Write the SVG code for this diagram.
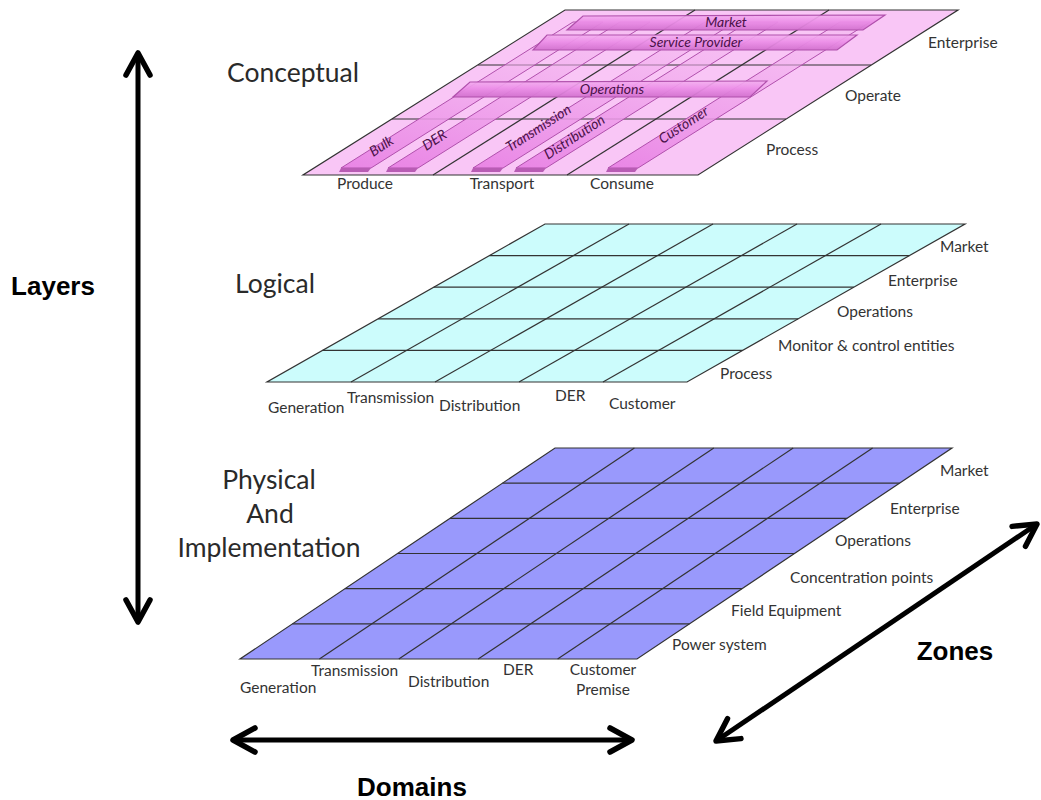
<svg xmlns="http://www.w3.org/2000/svg" width="1041" height="800" viewBox="0 0 1041 800">
<defs>
<style>
.lbl{font-family:Lato,"Liberation Sans",sans-serif;font-size:15.5px;fill:#333}
.ttl{font-family:Lato,"Liberation Sans",sans-serif;font-size:26.5px;fill:#2a2a2a}
.big{font-family:"Liberation Sans",Arial,sans-serif;font-size:26px;font-weight:bold;fill:#000}
.tube{fill:url(#tg);stroke:#b050ac;stroke-width:1.2}
.dtube{fill:url(#dg);stroke:#b050ac;stroke-width:1}
.tl{font-family:Lato,"Liberation Sans",sans-serif;font-size:14px;font-style:italic;fill:#4a1248}
.grid{stroke:#333;stroke-width:1.2;fill:none}
.axis{stroke:#000;stroke-width:5;fill:none}
</style>
<linearGradient id="tg" x1="0" y1="0" x2="0" y2="1">
<stop offset="0" stop-color="#f4b0f0" stop-opacity="0.9"/>
<stop offset="0.45" stop-color="#ec8fe8" stop-opacity="0.95"/>
<stop offset="1" stop-color="#d271ce" stop-opacity="0.95"/>
</linearGradient>
<linearGradient id="dg" x1="0" y1="1" x2="0.55" y2="0">
<stop offset="0" stop-color="#e985e5" stop-opacity="1"/>
<stop offset="0.45" stop-color="#ee9cea" stop-opacity="0.85"/>
<stop offset="1" stop-color="#f3b4ef" stop-opacity="0.45"/>
</linearGradient>
<marker id="head" markerUnits="userSpaceOnUse" markerWidth="40" markerHeight="40" viewBox="-30 -20 40 40" refX="0" refY="0" orient="auto-start-reverse">
<path d="M -22 -12 L 0 0 L -22 12" fill="none" stroke="#000" stroke-width="5.5" stroke-linecap="round" stroke-linejoin="round"/>
</marker>
</defs>
<rect width="1041" height="800" fill="#fff"/>

<g id="conceptual">
<polygon points="303,175 698,175 958,10 565,10" fill="#f9c6f6" stroke="#333" stroke-width="1.2"/>
<line class="grid" x1="478" y1="65" x2="871" y2="65"/>
<line class="grid" x1="392" y1="119" x2="786" y2="119"/>
<line class="grid" x1="433" y1="175" x2="695" y2="10"/>
<line class="grid" x1="567" y1="175" x2="829" y2="10"/>
<g id="tube-bulk">
<polygon class="dtube" points="341,168 371,168 603,22 573,22"/>
<polygon points="341,168 371,168 368,172 339,172" fill="#b85cb4"/>
<text class="tl" transform="translate(384,150) rotate(-33)" text-anchor="middle">Bulk</text>
</g>
<g id="tube-der">
<polygon class="dtube" points="388,168 418,168 650,22 620,22"/>
<polygon points="388,168 418,168 415,172 386,172" fill="#b85cb4"/>
<text class="tl" transform="translate(437,144) rotate(-33)" text-anchor="middle">DER</text>
</g>
<g id="tube-transmission">
<polygon class="dtube" points="473,168 503,168 735,22 705,22"/>
<polygon points="473,168 503,168 500,172 471,172" fill="#b85cb4"/>
<text class="tl" transform="translate(541,132) rotate(-33)" text-anchor="middle">Transmission</text>
</g>
<g id="tube-distribution">
<polygon class="dtube" points="516,168 546,168 778,22 748,22"/>
<polygon points="516,168 546,168 543,172 514,172" fill="#b85cb4"/>
<text class="tl" transform="translate(577,141) rotate(-33)" text-anchor="middle">Distribution</text>
</g>
<g id="tube-customer">
<polygon class="dtube" points="608,168 638,168 870,22 840,22"/>
<polygon points="608,168 638,168 635,172 606,172" fill="#b85cb4"/>
<text class="tl" transform="translate(686,129) rotate(-33)" text-anchor="middle">Customer</text>
</g>
<g id="tube-operations">
<polygon class="tube" points="470,82 767,81 750,97 453,97"/>
<text class="tl" x="612" y="94" text-anchor="middle">Operations</text>
</g>
<g id="tube-service-provider">
<polygon class="tube" points="547,35 857,35 837,50 533,50"/>
<text class="tl" x="696" y="47" text-anchor="middle">Service Provider</text>
</g>
<g id="tube-market">
<polygon class="tube" points="583,16 885,15 863,30 567,30"/>
<text class="tl" x="726" y="27" text-anchor="middle">Market</text>
</g>
<text class="lbl" x="365" y="189" text-anchor="middle">Produce</text>
<text class="lbl" x="502" y="189" text-anchor="middle">Transport</text>
<text class="lbl" x="622" y="189" text-anchor="middle">Consume</text>
<text class="lbl" x="928" y="48">Enterprise</text>
<text class="lbl" x="845" y="101">Operate</text>
<text class="lbl" x="766" y="155">Process</text>
<text class="ttl" x="293" y="82" text-anchor="middle">Conceptual</text>
</g>

<g id="logical">
<polygon points="267,382 687,382 965,224 545,224" fill="#ccfcfc" stroke="#333" stroke-width="1.2"/>
<line class="grid" x1="489.4" y1="255.6" x2="909.4" y2="255.6"/>
<line class="grid" x1="433.8" y1="287.2" x2="853.8" y2="287.2"/>
<line class="grid" x1="378.2" y1="318.8" x2="798.2" y2="318.8"/>
<line class="grid" x1="322.6" y1="350.4" x2="742.6" y2="350.4"/>
<line class="grid" x1="351" y1="382" x2="629" y2="224"/>
<line class="grid" x1="435" y1="382" x2="713" y2="224"/>
<line class="grid" x1="519" y1="382" x2="797" y2="224"/>
<line class="grid" x1="603" y1="382" x2="881" y2="224"/>
<text class="lbl" x="268" y="413">Generation</text>
<text class="lbl" x="347" y="403">Transmission</text>
<text class="lbl" x="439" y="411">Distribution</text>
<text class="lbl" x="555" y="401">DER</text>
<text class="lbl" x="609" y="409">Customer</text>
<text class="lbl" x="940" y="252">Market</text>
<text class="lbl" x="888" y="286">Enterprise</text>
<text class="lbl" x="837" y="317">Operations</text>
<text class="lbl" x="778" y="351">Monitor &amp; control entities</text>
<text class="lbl" x="720" y="379">Process</text>
<text class="ttl" x="275" y="293" text-anchor="middle">Logical</text>
</g>

<g id="physical">
<polygon points="240,659 637,659 952,448 555,448" fill="#9999fc" stroke="#333" stroke-width="1.2"/>
<line class="grid" x1="502.5" y1="483.2" x2="899.5" y2="483.2"/>
<line class="grid" x1="450.1" y1="518.3" x2="847.1" y2="518.3"/>
<line class="grid" x1="397.5" y1="553.5" x2="794.5" y2="553.5"/>
<line class="grid" x1="345" y1="588.7" x2="742" y2="588.7"/>
<line class="grid" x1="292.5" y1="623.8" x2="689.5" y2="623.8"/>
<line class="grid" x1="319.4" y1="659" x2="634.4" y2="448"/>
<line class="grid" x1="398.8" y1="659" x2="713.8" y2="448"/>
<line class="grid" x1="478.2" y1="659" x2="793.2" y2="448"/>
<line class="grid" x1="557.6" y1="659" x2="872.6" y2="448"/>
<text class="lbl" x="240" y="693">Generation</text>
<text class="lbl" x="311" y="676">Transmission</text>
<text class="lbl" x="408" y="687">Distribution</text>
<text class="lbl" x="503" y="675">DER</text>
<text class="lbl" x="603" y="675" text-anchor="middle">Customer</text>
<text class="lbl" x="603" y="695" text-anchor="middle">Premise</text>
<text class="lbl" x="940" y="476">Market</text>
<text class="lbl" x="890" y="514">Enterprise</text>
<text class="lbl" x="835" y="546">Operations</text>
<text class="lbl" x="790" y="583">Concentration points</text>
<text class="lbl" x="731" y="616">Field Equipment</text>
<text class="lbl" x="672" y="650">Power system</text>
<text class="ttl" x="269" y="489" text-anchor="middle">Physical</text>
<text class="ttl" x="270" y="523" text-anchor="middle">And</text>
<text class="ttl" x="269" y="557" text-anchor="middle">Implementation</text>
</g>

<g id="connectors">
<line class="axis" x1="138" y1="53" x2="138" y2="622" marker-start="url(#head)" marker-end="url(#head)"/>
<line class="axis" x1="233" y1="740" x2="632" y2="740" marker-start="url(#head)" marker-end="url(#head)"/>
<line class="axis" x1="716" y1="741" x2="1037" y2="524" marker-start="url(#head)" marker-end="url(#head)"/>
</g>

<g id="axis-labels">
<text class="big" x="53" y="295" text-anchor="middle">Layers</text>
<text class="big" x="412" y="796" text-anchor="middle">Domains</text>
<text class="big" x="955" y="660" text-anchor="middle">Zones</text>
</g>
</svg>
